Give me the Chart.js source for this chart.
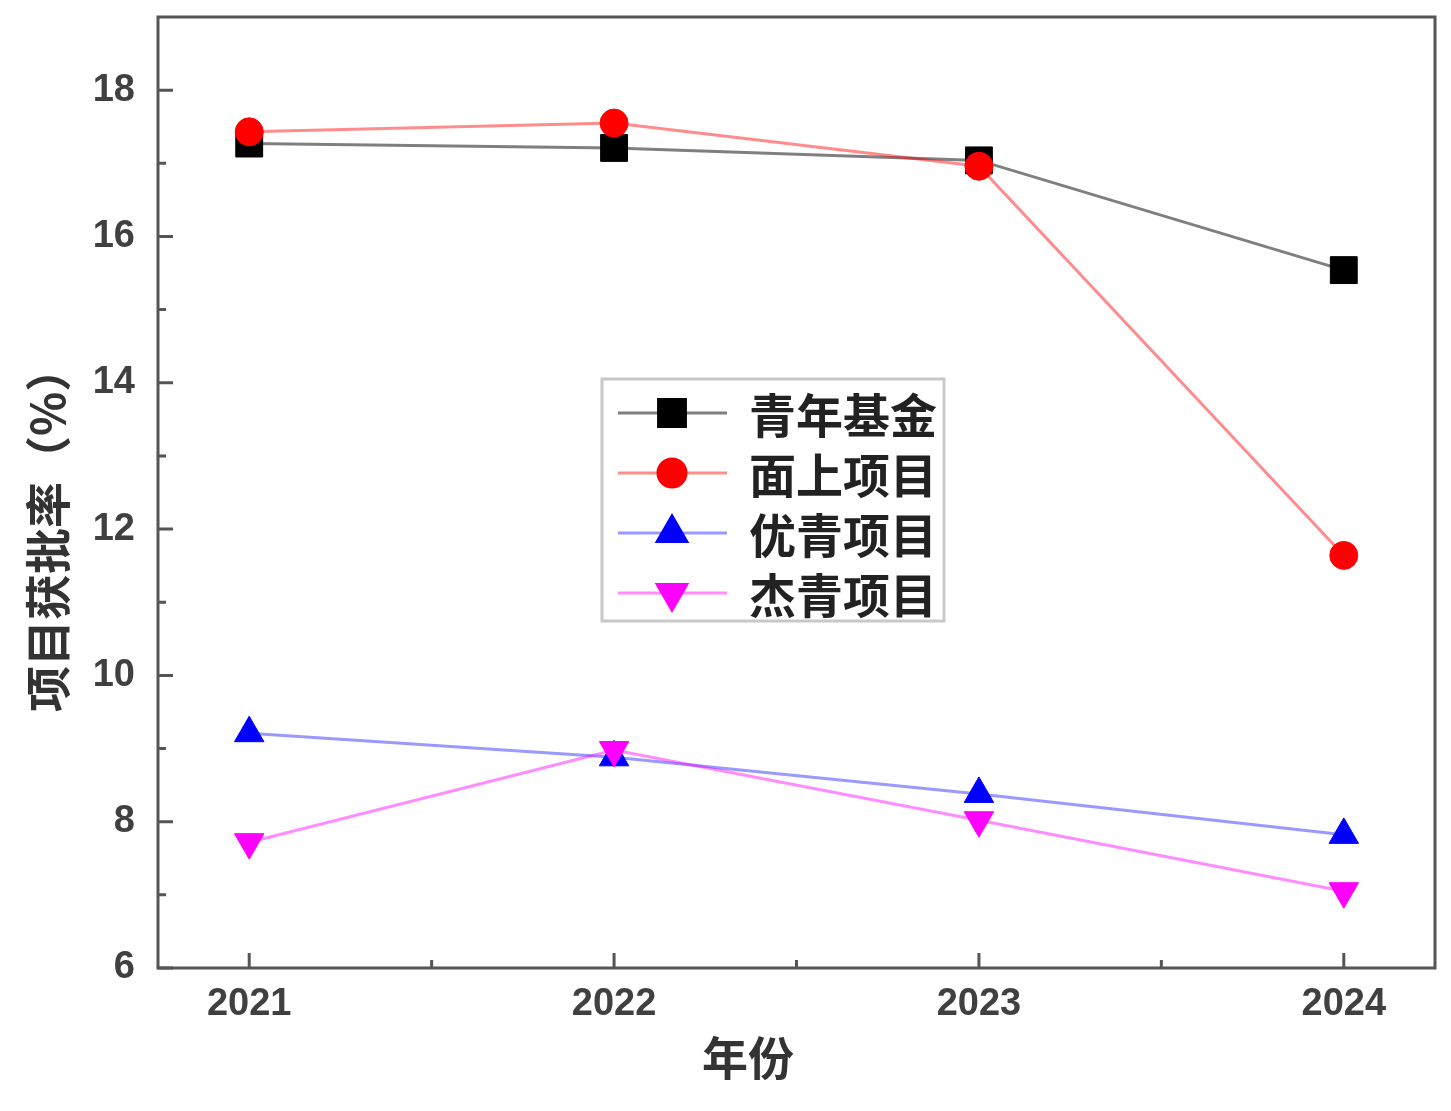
<!DOCTYPE html>
<html><head><meta charset="utf-8">
<script src="https://cdn.jsdelivr.net/npm/chart.js@4"></script>
<style>html,body{margin:0;padding:0;background:#fff;}canvas{display:block;}</style>
</head><body>
<canvas id="c" width="1451" height="1111"></canvas>
<script>
const years = [2021, 2022, 2023, 2024];
const seriesNames = ['青年基金', '面上项目', '优青项目', '杰青项目'];
const youthFund = [17.27, 17.21, 17.04, 15.54];
const generalProject = [17.43, 17.55, 16.96, 11.64];
const excellentYouth = [9.21, 8.88, 8.38, 7.82];
const distinguishedYouth = [7.72, 8.98, 8.02, 7.05];
const yTicks = [6, 8, 10, 12, 14, 16, 18];
const xTitle = '年份';
const yTitle = '项目获批率（%）';

const CJK = '"Noto Sans CJK SC", "Noto Sans", sans-serif';
const NUM = '"Liberation Sans", Arial, sans-serif';
const FRAME = '#555555';

function pts(vals){ return years.map((yr, i) => ({x: yr, y: vals[i]})); }

const datasets = [
  {label: seriesNames[0], data: pts(youthFund), borderColor: 'rgba(0,0,0,0.5)', backgroundColor: '#000000',
   pointStyle: 'rect', pointRadius: 19, pointRotation: 0, order: 3},
  {label: seriesNames[1], data: pts(generalProject), borderColor: 'rgba(255,0,0,0.45)', backgroundColor: '#ff0000',
   pointStyle: 'circle', pointRadius: 14, pointRotation: 0, order: 2},
  {label: seriesNames[2], data: pts(excellentYouth), borderColor: 'rgba(0,0,255,0.4)', backgroundColor: '#0000ff',
   pointStyle: 'triangle', pointRadius: 17, pointRotation: 0, order: 1},
  {label: seriesNames[3], data: pts(distinguishedYouth), borderColor: 'rgba(255,0,255,0.45)', backgroundColor: '#ff00ff',
   pointStyle: 'triangle', pointRadius: 17, pointRotation: 180, order: 0}
].map(d => Object.assign({
  borderWidth: 3, pointBackgroundColor: d.backgroundColor, pointBorderColor: d.backgroundColor,
  pointBorderWidth: 1, tension: 0, fill: false
}, d));

const framePlugin = {
  id: 'frame',
  beforeDatasetsDraw(chart){
    const {ctx, chartArea: a, scales: {x, y}} = chart;
    ctx.save();
    ctx.strokeStyle = FRAME; ctx.lineWidth = 3; ctx.lineCap = 'butt';
    ctx.strokeRect(a.left, a.top, a.right - a.left, a.bottom - a.top);
    ctx.beginPath();
    yTicks.forEach(v => { const p = y.getPixelForValue(v); ctx.moveTo(a.left, p); ctx.lineTo(a.left + 15, p); });
    for (let i = 0; i < yTicks.length - 1; i++) {
      const p = y.getPixelForValue((yTicks[i] + yTicks[i + 1]) / 2);
      ctx.moveTo(a.left, p); ctx.lineTo(a.left + 8, p);
    }
    years.forEach(v => { const p = x.getPixelForValue(v); ctx.moveTo(p, a.bottom); ctx.lineTo(p, a.bottom - 15); });
    for (let i = 0; i < years.length - 1; i++) {
      const p = x.getPixelForValue((years[i] + years[i + 1]) / 2);
      ctx.moveTo(p, a.bottom); ctx.lineTo(p, a.bottom - 8);
    }
    ctx.stroke();
    ctx.restore();
  }
};

const titlesPlugin = {
  id: 'titles',
  afterDraw(chart){
    const {ctx} = chart;
    ctx.save();
    ctx.fillStyle = '#333333';
    ctx.font = 'bold 46px ' + CJK;
    ctx.textAlign = 'center'; ctx.textBaseline = 'middle';
    ctx.fillText(xTitle, 748, 1058);
    ctx.translate(48, 712);
    ctx.rotate(-Math.PI / 2);
    ctx.textAlign = 'left';
    ctx.fillText(yTitle, 0, 0);
    ctx.restore();
  }
};

const legendPlugin = {
  id: 'boxLegend',
  afterDraw(chart){
    const {ctx} = chart;
    const bx = 602, by = 379, bw = 342, bh = 242;
    ctx.save();
    ctx.fillStyle = '#ffffff';
    ctx.fillRect(bx, by, bw, bh);
    ctx.strokeStyle = '#c8c8c8'; ctx.lineWidth = 3;
    ctx.strokeRect(bx, by, bw, bh);
    const rows = [413, 473, 533, 593];
    chart.data.datasets.forEach((d, i) => {
      const yy = rows[i];
      ctx.strokeStyle = d.borderColor; ctx.lineWidth = d.borderWidth;
      ctx.beginPath(); ctx.moveTo(618, yy); ctx.lineTo(727, yy); ctx.stroke();
      ctx.fillStyle = d.pointBackgroundColor; ctx.strokeStyle = d.pointBorderColor;
      Chart.helpers.drawPoint(ctx, {pointStyle: d.pointStyle, radius: d.pointRadius, rotation: d.pointRotation, borderWidth: 1}, 672, yy);
      ctx.fillStyle = '#222222';
      ctx.font = 'bold 47px ' + CJK;
      ctx.textAlign = 'left'; ctx.textBaseline = 'middle';
      ctx.fillText(d.label, 749, yy + 2);
    });
    ctx.restore();
  }
};

new Chart(document.getElementById('c'), {
  type: 'line',
  data: {datasets},
  plugins: [framePlugin, titlesPlugin, legendPlugin],
  options: {
    responsive: false,
    animation: false,
    devicePixelRatio: 1,
    events: [],
    layout: {autoPadding: false, padding: {top: 17, right: 16, left: 0, bottom: 0}},
    plugins: {legend: {display: false}, tooltip: {enabled: false}, title: {display: false}},
    scales: {
      x: {
        type: 'linear', min: 2020.75, max: 2024.25,
        afterBuildTicks: s => { s.ticks = years.map(v => ({value: v})); },
        afterFit: s => { s.height = 143; s.paddingLeft = 0; s.paddingRight = 0; },
        grid: {display: false, drawTicks: false},
        border: {display: false},
        ticks: {padding: 14, color: '#404040', font: {family: NUM, size: 38, weight: 'bold'},
                maxRotation: 0, autoSkip: false, callback: v => String(v)}
      },
      y: {
        type: 'linear', min: 6, max: 19,
        afterBuildTicks: s => { s.ticks = yTicks.map(v => ({value: v})); },
        afterFit: s => { s.width = 158; s.paddingTop = 0; s.paddingBottom = 0; },
        grid: {display: false, drawTicks: false},
        border: {display: false},
        ticks: {padding: 23, color: '#404040', font: {family: NUM, size: 38, weight: 'bold'},
                autoSkip: false, callback: v => String(v)}
      }
    }
  }
});
</script>
</body></html>
